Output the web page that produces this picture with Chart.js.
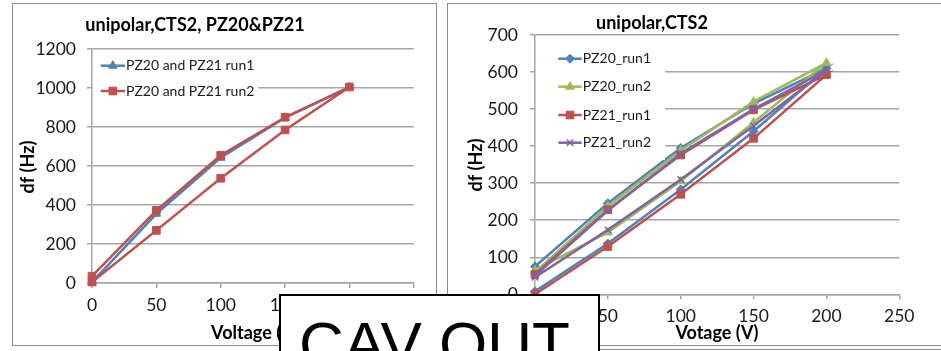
<!DOCTYPE html>
<html>
<head>
<meta charset="utf-8">
<script src="https://cdn.jsdelivr.net/npm/chart.js@4.4.1/dist/chart.umd.min.js"></script>
<style>
  html, body { margin: 0; padding: 0; background: #fff; }
  body { width: 941px; height: 351px; position: relative; overflow: hidden; font-family: Lato, sans-serif; }
  .panel { position: absolute; border: 1.5px solid #8c8c8c; box-sizing: border-box; }
  .rule { position: absolute; height: 0; border-top: 1.5px solid #8c8c8c; }
  canvas { position: absolute; }
  #stamp {
    position: absolute; left: 279px; top: 294px; width: 321px; height: 80px;
    box-sizing: border-box; border: 2px solid #000; background: #fff; overflow: hidden;
  }
  #stamp span {
    position: absolute; left: 18px; top: 17px;
    font-family: "Liberation Sans", Arial, sans-serif; font-size: 62px; line-height: 62px;
    color: #000; white-space: nowrap;
  }
</style>
</head>
<body>
<div class="panel" style="left:12px;top:3px;width:425px;height:343px;"></div>
<div class="panel" style="left:447px;top:3px;width:500px;height:343px;"></div>
<div class="rule" style="left:447px;top:349px;width:494px;"></div>
<canvas id="leftChart" width="423" height="341" style="left:13px;top:4px;"></canvas>
<canvas id="rightChart" width="492" height="341" style="left:448px;top:4px;"></canvas>
<div id="stamp"><span>CAV OUT</span></div>

<script>
// ---- Data: frequency shift df (Hz) against drive voltage (V) ----
// Voltage sweeps: up only, and up then back down to zero
const sweepUp   = [0, 50, 100, 150, 200];
const sweepLoop = [0, 50, 100, 150, 200, 150, 100, 50, 0];

// PZ20 and PZ21 driven together
const pairRun1 = [5, 355, 642, 848, 1005];
const pairRun2 = [5, 270, 537, 785, 1005, 850, 655, 372, 35];

// PZ20 / PZ21 driven separately
const pz20Run1 = [8, 137, 283, 440, 610, 515, 395, 246, 75];
const pz20Run2 = [65, 167, 305, 464, 625, 520, 388, 238, 60];
const pz21Run1 = [0, 129, 270, 421, 593, 498, 376, 228, 54];
const pz21Run2 = [46, 174, 310, 455, 605, 500, 380, 226, 50];

// Axis tick values
const voltTicks     = [0, 50, 100, 150, 200, 250];
const pairDfTicks   = [0, 200, 400, 600, 800, 1000, 1200];
const singleDfTicks = [0, 100, 200, 300, 400, 500, 600, 700];

// Series names
const pairNames   = ['PZ20 and PZ21 run1', 'PZ20 and PZ21 run2'];
const singleNames = ['PZ20_run1', 'PZ20_run2', 'PZ21_run1', 'PZ21_run2'];

// ---- Styling ----
const BLUE = '#4f81bd', RED = '#c0504d', GREEN = '#9bbb59', PURPLE = '#8064a2';
const GRID = '#a6a6a6';
const FONT = 'Lato, "Open Sans", sans-serif';

const toPoints = (xs, ys) => ys.map((y, i) => ({ x: xs[i], y }));

function series(label, xs, ys, color, style, radius, order) {
  return {
    label, data: toPoints(xs, ys), order,
    showLine: true, borderColor: color, backgroundColor: color,
    borderWidth: 2.5, pointStyle: style, pointRadius: radius,
    pointBackgroundColor: color, pointBorderColor: color, pointBorderWidth: style === 'crossRot' ? 1.5 : 1,
    tension: 0, clip: false
  };
}

function markerAt(ctx, ds, x, y) {
  ctx.fillStyle = ds.pointBackgroundColor;
  ctx.strokeStyle = ds.pointBorderColor;
  ctx.lineWidth = ds.pointBorderWidth;
  if (Chart.helpers && Chart.helpers.drawPoint) {
    Chart.helpers.drawPoint(ctx, { pointStyle: ds.pointStyle, rotation: 0, radius: ds.pointRadius, borderWidth: ds.pointBorderWidth }, x, y);
  } else {
    const s = ds.pointRadius * 0.75;
    ctx.fillRect(x - s, y - s, 2 * s, 2 * s);
  }
}

// Draws chart title, axis titles and an in-plot legend at set places
const panelDecor = {
  id: 'panelDecor',
  afterDatasetsDraw(chart, args, o) {
    const ctx = chart.ctx, lg = o.legend;
    ctx.save();
    ctx.fillStyle = '#fff';
    ctx.fillRect(lg.box[0], lg.box[1], lg.box[2], lg.box[3]);
    const list = chart.data.datasets.slice().sort((a, b) => a.legendIndex - b.legendIndex);
    list.forEach((ds, i) => {
      const y = lg.rows[i];
      ctx.strokeStyle = ds.borderColor;
      ctx.lineWidth = ds.borderWidth;
      ctx.beginPath(); ctx.moveTo(lg.lineX0, y); ctx.lineTo(lg.lineX1, y); ctx.stroke();
      markerAt(ctx, ds, (lg.lineX0 + lg.lineX1) / 2, y);
      ctx.fillStyle = '#1a1a1a';
      ctx.font = lg.size + 'px ' + FONT;
      ctx.textAlign = 'left';
      ctx.textBaseline = 'middle';
      ctx.fillText(ds.label, lg.textX, y);
    });
    ctx.restore();
  },
  afterDraw(chart, args, o) {
    const ctx = chart.ctx;
    ctx.save();
    ctx.fillStyle = '#000';
    ctx.textAlign = 'center';
    ctx.textBaseline = 'middle';
    ctx.font = 'bold ' + o.title.size + 'px ' + FONT;
    ctx.fillText(o.title.text, o.title.x, o.title.y);
    ctx.font = 'bold ' + o.axis.size + 'px ' + FONT;
    ctx.fillText(o.axis.xText, o.axis.xx, o.axis.xy);
    ctx.translate(o.axis.yx, o.axis.yy);
    ctx.rotate(-Math.PI / 2);
    ctx.fillText(o.axis.yText, 0, 0);
    ctx.restore();
  }
};

function scales(yTicks, yWidth, xHeight, yPad) {
  const tickFont = { family: FONT, size: 17.5 };
  const plain = v => String(v);
  return {
    x: {
      type: 'linear', min: voltTicks[0], max: voltTicks[voltTicks.length - 1],
      afterBuildTicks: s => { s.ticks = voltTicks.map(v => ({ value: v })); },
      afterFit: s => { s.height = xHeight; },
      ticks: { color: '#1a1a1a', font: tickFont, padding: 7, maxRotation: 0, autoSkip: false, callback: plain },
      grid: { drawOnChartArea: false, drawTicks: true, tickLength: 5, color: GRID, lineWidth: 1.5 },
      border: { color: GRID, width: 1.5 }
    },
    y: {
      type: 'linear', min: yTicks[0], max: yTicks[yTicks.length - 1],
      afterBuildTicks: s => { s.ticks = yTicks.map(v => ({ value: v })); },
      afterFit: s => { s.width = yWidth; },
      ticks: { color: '#1a1a1a', font: tickFont, padding: yPad, autoSkip: false, callback: plain },
      grid: { color: GRID, lineWidth: 1.5, tickLength: 5 },
      border: { color: GRID, width: 1.5 }
    }
  };
}

const common = {
  responsive: false, animation: false, devicePixelRatio: 1,
  plugins: { legend: { display: false }, tooltip: { enabled: false } }
};

// Left: both transducers together
const leftSets = [
  series(pairNames[0], sweepUp, pairRun1, BLUE, 'triangle', 5, 2),
  series(pairNames[1], sweepLoop, pairRun2, RED, 'rect', 5.4, 1)
];
leftSets.forEach((d, i) => d.legendIndex = i);

new Chart(document.getElementById('leftChart'), {
  type: 'scatter',
  data: { datasets: leftSets },
  options: Object.assign({}, common, {
    layout: { padding: { left: 0, right: 19, top: 45, bottom: 0 } },
    scales: scales(pairDfTicks, 79, 62, 11),
    plugins: Object.assign({}, common.plugins, {
      panelDecor: {
        title: { text: 'unipolar,CTS2, PZ20&PZ21', x: 182, y: 21, size: 18 },
        axis: { xText: 'Voltage (V)', xx: 242, xy: 329, yText: 'df (Hz)', yx: 15, yy: 163, size: 18 },
        legend: { box: [80, 51, 165, 45], rows: [61.7, 87], lineX0: 87.7, lineX1: 112, textX: 113, size: 14 }
      }
    })
  }),
  plugins: [panelDecor]
});

// Right: each transducer on its own
const rightSets = [
  series(singleNames[0], sweepLoop, pz20Run1, BLUE, 'rectRot', 4.5, 4),
  series(singleNames[1], sweepLoop, pz20Run2, GREEN, 'triangle', 5, 3),
  series(singleNames[2], sweepLoop, pz21Run1, RED, 'rect', 5.4, 2),
  series(singleNames[3], sweepLoop, pz21Run2, PURPLE, 'crossRot', 4.5, 1)
];
rightSets.forEach((d, i) => d.legendIndex = i);

new Chart(document.getElementById('rightChart'), {
  type: 'scatter',
  data: { datasets: rightSets },
  options: Object.assign({}, common, {
    layout: { padding: { left: 0, right: 40.7, top: 31, bottom: 0 } },
    scales: scales(singleDfTicks, 87, 50.7, 12),
    plugins: Object.assign({}, common.plugins, {
      panelDecor: {
        title: { text: 'unipolar,CTS2', x: 204, y: 19, size: 18 },
        axis: { xText: 'Votage (V)', xx: 269, xy: 329, yText: 'df (Hz)', yx: 28, yy: 161, size: 18 },
        legend: { box: [88, 41, 129, 115], rows: [54.7, 82.7, 111, 138.7], lineX0: 110.3, lineX1: 133.7, textX: 134.7, size: 14 }
      }
    })
  }),
  plugins: [panelDecor]
});
</script>
</body>
</html>
